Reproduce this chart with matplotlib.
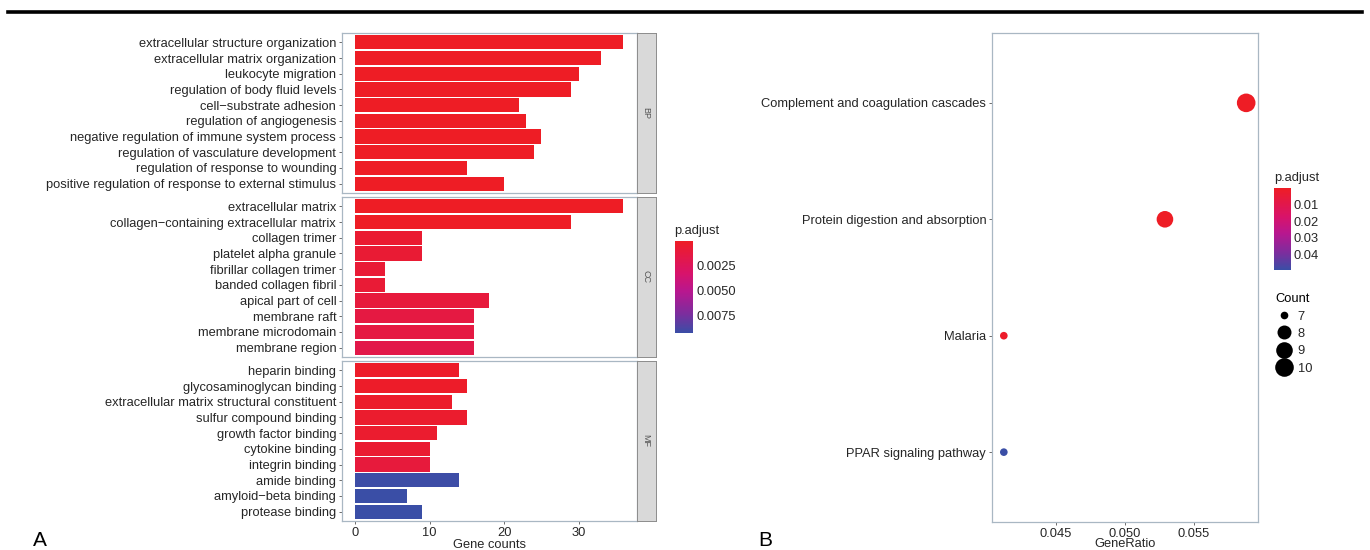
import numpy as np
import matplotlib.pyplot as plt
from matplotlib.colors import LinearSegmentedColormap, Normalize
from matplotlib.cm import ScalarMappable
from matplotlib.lines import Line2D

plt.rcParams['font.family'] = ['Liberation Sans', 'DejaVu Sans']

# --- Datos panel A: GO (BP / CC / MF) ---
bp_terms = ['extracellular structure organization', 'extracellular matrix organization',
            'leukocyte migration', 'regulation of body fluid levels', 'cell\u2212substrate adhesion',
            'regulation of angiogenesis', 'negative regulation of immune system process',
            'regulation of vasculature development', 'regulation of response to wounding',
            'positive regulation of response to external stimulus']
bp_counts = [36, 33, 30, 29, 22, 23, 25, 24, 15, 20]
bp_padj = [1e-8, 1e-8, 1e-7, 1e-7, 2e-6, 2e-6, 3e-6, 3e-6, 5e-6, 6e-6]

cc_terms = ['extracellular matrix', 'collagen\u2212containing extracellular matrix', 'collagen trimer',
            'platelet alpha granule', 'fibrillar collagen trimer', 'banded collagen fibril',
            'apical part of cell', 'membrane raft', 'membrane microdomain', 'membrane region']
cc_counts = [36, 29, 9, 9, 4, 4, 18, 16, 16, 16]
cc_padj = [1e-8, 1e-7, 0.0006, 0.0007, 0.0008, 0.0008, 0.0011, 0.0014, 0.0014, 0.0017]

mf_terms = ['heparin binding', 'glycosaminoglycan binding', 'extracellular matrix structural constituent',
            'sulfur compound binding', 'growth factor binding', 'cytokine binding', 'integrin binding',
            'amide binding', 'amyloid\u2212beta binding', 'protease binding']
mf_counts = [14, 15, 13, 15, 11, 10, 10, 14, 7, 9]
mf_padj = [0.0002, 0.0002, 0.0003, 0.0004, 0.0005, 0.0006, 0.0011, 0.0091, 0.0092, 0.0092]

facet_names = ['BP', 'CC', 'MF']

# --- Datos panel B: KEGG ---
kegg_terms = ['Complement and coagulation cascades', 'Protein digestion and absorption',
              'Malaria', 'PPAR signaling pathway']
kegg_ratio = [0.0588, 0.0529, 0.0412, 0.0412]
kegg_count = [10, 9, 7, 7]
kegg_padj = [1e-5, 2e-4, 0.0012, 0.0496]

# Escala de color rojo -> azul (como ggplot)
cmap = LinearSegmentedColormap.from_list('padj', [(0, '#EE1D25'), (0.35, '#D8136A'), (0.55, '#B8178F'),
                                                  (0.8, '#7A2E9E'), (1, '#3A4EA6')])
txt_col = '#262626'
border_col = '#A9B7C3'
FS = 9.3

W, H = 1370, 550
fig = plt.figure(figsize=(W / 100, H / 100), dpi=100)

def frac(x0, y0, x1, y1):
    # caja en pixeles -> fracciones de figura
    return [x0 / W, 1 - y1 / H, (x1 - x0) / W, (y1 - y0) / H]

def style_axes(ax):
    for s in ax.spines.values():
        s.set_color(border_col)
        s.set_linewidth(0.9)
    ax.tick_params(length=2.5, width=0.6, color='#555555', labelsize=FS, labelcolor=txt_col, pad=1.5)

# --- Panel A ---
all_padj = bp_padj + cc_padj + mf_padj
normA = Normalize(vmin=min(all_padj), vmax=max(all_padj))
panel_y = [(33, 193), (197, 357), (361, 521)]
groups = [(bp_terms, bp_counts, bp_padj), (cc_terms, cc_counts, cc_padj), (mf_terms, mf_counts, mf_padj)]

for k, (terms, counts, padj) in enumerate(groups):
    y0, y1 = panel_y[k]
    ax = fig.add_axes(frac(341.7, y0, 636.7, y1))
    pos = np.arange(len(terms))
    ax.barh(pos, counts, height=0.9, color=cmap(normA(np.array(padj))))
    ax.set_ylim(len(terms) - 0.4, -0.6)
    ax.set_xlim(-1.8, 37.8)
    ax.set_yticks(pos)
    ax.set_yticklabels(terms)
    ax.set_xticks([0, 10, 20, 30])
    style_axes(ax)
    if k < 2:
        ax.tick_params(axis='x', length=0, labelbottom=False)
    else:
        ax.set_xlabel('Gene counts', fontsize=FS, color=txt_col, labelpad=0)
    # strip lateral
    sax = fig.add_axes(frac(636.7, y0, 655.5, y1))
    sax.set_facecolor('#D9D9D9')
    sax.set_xticks([])
    sax.set_yticks([])
    for s in sax.spines.values():
        s.set_color('#8C8C8C')
        s.set_linewidth(0.7)
    sax.text(0.5, 0.5, facet_names[k], rotation=-90, ha='center', va='center',
             fontsize=6.5, color='#555555', transform=sax.transAxes)

caxA = fig.add_axes(frac(674.5, 240.7, 692.5, 333))
cbA = fig.colorbar(ScalarMappable(norm=normA, cmap=cmap), cax=caxA)
cbA.outline.set_visible(False)
caxA.invert_yaxis()
cbA.set_ticks([0.0025, 0.005, 0.0075])
cbA.set_ticklabels(['0.0025', '0.0050', '0.0075'])
caxA.tick_params(length=0, labelsize=FS, labelcolor=txt_col, pad=3)
caxA.set_title('p.adjust', loc='left', fontsize=FS, color=txt_col, pad=5)

# --- Panel B ---
normB = Normalize(vmin=min(kegg_padj), vmax=max(kegg_padj))
axB = fig.add_axes(frac(991.7, 33, 1258.3, 522))
cmin, cmax = min(kegg_count), max(kegg_count)

def dot_size(c):
    # escala de area tipo ggplot: diametro en pt
    t = (np.asarray(c, dtype=float) - cmin) / (cmax - cmin)
    return 5.5 + np.sqrt(t) * 7.9

posB = np.arange(len(kegg_terms))
axB.scatter(kegg_ratio, posB, s=dot_size(kegg_count) ** 2, c=cmap(normB(np.array(kegg_padj))),
            edgecolors='none', zorder=3)
axB.set_ylim(len(kegg_terms) - 0.4, -0.6)
lo, hi = min(kegg_ratio), max(kegg_ratio)
axB.set_xlim(lo - 0.05 * (hi - lo), hi + 0.05 * (hi - lo))
axB.set_yticks(posB)
axB.set_yticklabels(kegg_terms)
axB.set_xticks([0.045, 0.050, 0.055])
axB.set_xticklabels(['0.045', '0.050', '0.055'])
style_axes(axB)
axB.set_xlabel('GeneRatio', fontsize=FS, color=txt_col, labelpad=-1)

caxB = fig.add_axes(frac(1274.3, 188.3, 1291, 270))
cbB = fig.colorbar(ScalarMappable(norm=normB, cmap=cmap), cax=caxB)
cbB.outline.set_visible(False)
caxB.invert_yaxis()
cbB.set_ticks([0.01, 0.02, 0.03, 0.04])
cbB.set_ticklabels(['0.01', '0.02', '0.03', '0.04'])
caxB.tick_params(length=0, labelsize=FS, labelcolor=txt_col, pad=2)
caxB.set_title('p.adjust', loc='left', fontsize=FS, color=txt_col, pad=5)

# leyenda de tamano (Count)
legend_counts = [7, 8, 9, 10]
handles = [Line2D([], [], marker='o', ls='', color='black', markeredgewidth=0,
                  markersize=float(dot_size(c))) for c in legend_counts]
fig.legend(handles, [str(c) for c in legend_counts], title='Count', loc='upper left',
           bbox_to_anchor=(1266 / W, 1 - 284 / H), frameon=False, fontsize=FS, title_fontsize=FS,
           labelspacing=0.42, handletextpad=0.35, borderpad=0.2, handlelength=1.4,
           labelcolor=txt_col, alignment='left')

# Letras de panel y linea superior
fig.text(33 / W, 1 - 541 / H, 'A', fontsize=15, va='center', ha='left', color='black')
fig.text(758 / W, 1 - 541 / H, 'B', fontsize=15, va='center', ha='left', color='black')
fig.add_artist(Line2D([8 / W, 1362 / W], [1 - 12 / H, 1 - 12 / H], color='black', linewidth=2.6))

fig.savefig('out.png', dpi=100)
